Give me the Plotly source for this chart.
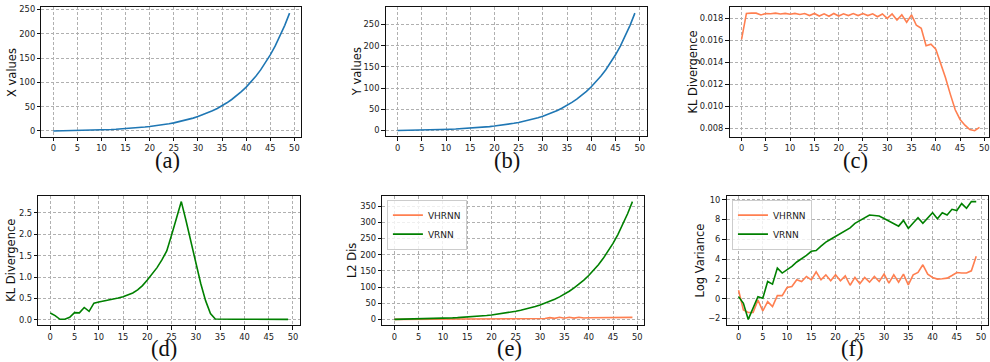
import plotly.graph_objects as go

W, H = 990, 362

steps = list(range(50))

x_values = [0, 0.14, 0.29, 0.45, 0.64, 0.85, 1.08, 1.34, 1.63, 1.96,
            2.32, 2.72, 3.17, 3.67, 4.22, 4.84, 5.54, 6.31, 7.17, 8.13,
            9.20, 10.39, 11.72, 13.20, 14.86, 16.70, 18.76, 21.05, 23.60, 26.45,
            29.63, 33.17, 37.12, 41.53, 46.44, 51.91, 58.02, 64.83, 72.42, 80.88,
            90.32, 100.8, 112.6, 125.7, 140.2, 156.5, 174.6, 194.9, 217.4, 242.5]

y_values = [0, 0.15, 0.33, 0.52, 0.73, 0.97, 1.24, 1.53, 1.86, 2.23,
            2.64, 3.10, 3.61, 4.18, 4.81, 5.52, 6.31, 7.19, 8.17, 9.27,
            10.48, 11.84, 13.36, 15.05, 16.94, 19.04, 21.39, 24.00, 26.90, 30.15,
            33.78, 37.81, 42.32, 47.34, 52.94, 59.18, 66.14, 73.91, 82.56, 92.20,
            102.96, 114.9, 128.4, 143.3, 159.8, 178.4, 199.0, 222.2, 247.8, 276.5]

kl_c = [0.0161, 0.01845, 0.01848, 0.01848, 0.01832, 0.01845, 0.01842, 0.01848, 0.01840, 0.01846,
        0.01838, 0.01846, 0.01836, 0.01844, 0.01826, 0.01845, 0.01822, 0.01842, 0.01820, 0.01845,
        0.01822, 0.01842, 0.01826, 0.01844, 0.01826, 0.01844, 0.01826, 0.01842, 0.01815, 0.01840,
        0.01800, 0.01840, 0.01785, 0.01832, 0.01765, 0.01832, 0.01738, 0.01710, 0.01552, 0.01566,
        0.01521, 0.01400, 0.01260, 0.01110, 0.00970, 0.00882, 0.00830, 0.00790, 0.00780, 0.00810]

kl_d = [0.16, 0.10, 0.015, 0.015, 0.06, 0.17, 0.165, 0.29, 0.20, 0.39,
        0.42, 0.44, 0.465, 0.49, 0.51, 0.54, 0.59, 0.63, 0.70, 0.80,
        0.93, 1.07, 1.22, 1.40, 1.61, 1.98, 2.37, 2.76, 2.30, 1.80,
        1.30, 0.85, 0.45, 0.15, 0.02, 0.015, 0.015, 0.015, 0.016, 0.016,
        0.016, 0.017, 0.017, 0.018, 0.018, 0.019, 0.02, 0.02, 0.018, 0.012]

l2_vhrnn = [0, 0.1, 0.2, 0.3, 0.4, 0.5, 0.6, 0.7, 0.8, 0.9,
            1.0, 1.1, 1.2, 1.3, 1.4, 1.5, 1.6, 1.7, 1.8, 1.9,
            2.0, 2.2, 2.3, 2.5, 2.6, 2.8, 3.0, 3.2, 3.3, 3.5,
            4.5, 2.8, 5.5, 3.2, 6.5, 3.5, 6.5, 4.0, 6.8, 4.5,
            5.0, 5.0, 5.1, 5.2, 5.3, 5.4, 5.5, 5.6, 5.8, 6.2]

l2_vrnn = [0, 0.20, 0.43, 0.68, 0.96, 1.28, 1.63, 2.01, 2.45, 2.93,
           3.48, 4.08, 4.75, 5.50, 6.33, 7.26, 8.30, 9.46, 10.75, 12.19,
           13.80, 15.59, 17.58, 19.80, 22.29, 25.05, 28.14, 31.58, 35.40, 39.68,
           44.45, 49.76, 55.68, 62.30, 69.66, 77.87, 87.03, 97.25, 108.6, 121.3,
           135.5, 151.2, 168.9, 188.6, 210.3, 234.8, 261.9, 292.4, 326.1, 363.8]

logvar_vhrnn = [0.85, -1.15, -1.4, -1.4, -0.15, -1.25, -0.3, -0.8, 0.3, 0.3,
                1.12, 1.22, 1.9, 1.73, 2.24, 1.9, 2.7, 1.9, 2.4, 1.8,
                2.4, 1.8, 2.3, 1.35, 2.14, 1.5, 2.14, 1.66, 2.24, 1.73,
                2.47, 1.56, 2.4, 1.66, 2.47, 1.39, 2.4, 2.64, 3.42, 2.47,
                2.14, 1.97, 2.0, 2.07, 2.34, 2.64, 2.58, 2.58, 2.81, 4.27]

logvar_vrnn = [0.2, -0.47, -2.1, -1.0, 0.2, 0.03, 1.73, 1.46, 3.08, 2.58,
               2.9, 3.25, 3.7, 4.03, 4.37, 4.78, 4.85, 5.3, 5.7, 6.0,
               6.3, 6.58, 6.88, 7.15, 7.6, 7.9, 8.17, 8.44, 8.4, 8.34,
               8.1, 7.86, 7.6, 7.32, 7.9, 7.08, 7.63, 8.17, 7.6, 8.17,
               8.68, 8.07, 8.68, 8.44, 9.02, 8.9, 9.6, 9.12, 9.8, 9.8]

x_ticks = list(range(0, 51, 5))

BLUE = "#1f77b4"
CORAL = "#FF7F50"
GREEN = "#008000"
FONT = "DejaVu Sans"

# panel geometry in pixels: (left, right, top, bottom)
panels = [
    (41.5, 301.7, 4.3, 135.0),
    (386.1, 647.4, 4.3, 134.5),
    (730.4, 990.0, 4.3, 134.7),
    (38.4, 300.3, 194.3, 325.0),
    (382.8, 645.0, 194.3, 325.0),
    (727.4, 989.1, 194.3, 325.0),
]


def auto_range(vals):
    lo, hi = min(vals), max(vals)
    pad = 0.05 * (hi - lo)
    return [lo - pad, hi + pad]


fig = go.Figure()

series = [
    (1, [("x", x_values, BLUE, None)]),
    (2, [("y", y_values, BLUE, None)]),
    (3, [("c", kl_c, CORAL, None)]),
    (4, [("d", kl_d, GREEN, None)]),
    (5, [("VHRNN", l2_vhrnn, CORAL, "legend"), ("VRNN", l2_vrnn, GREEN, "legend")]),
    (6, [("VHRNN", logvar_vhrnn, CORAL, "legend2"), ("VRNN", logvar_vrnn, GREEN, "legend2")]),
]

for idx, lst in series:
    for name, vals, col, leg in lst:
        fig.add_trace(go.Scatter(
            x=steps, y=vals, mode="lines", name=name,
            line=dict(color=col, width=1.6),
            xaxis="x" if idx == 1 else f"x{idx}",
            yaxis="y" if idx == 1 else f"y{idx}",
            showlegend=leg is not None,
            legend=leg if leg else "legend",
        ))

y_specs = [
    (auto_range(x_values), list(range(0, 251, 50)), "d"),
    (auto_range(y_values), list(range(0, 251, 50)), "d"),
    (auto_range(kl_c), [0.008, 0.010, 0.012, 0.014, 0.016, 0.018], ".3f"),
    (auto_range(kl_d), [0.0, 0.5, 1.0, 1.5, 2.0, 2.5], ".1f"),
    (auto_range(l2_vrnn), list(range(0, 351, 50)), "d"),
    (auto_range(logvar_vrnn + logvar_vhrnn), [-2, 0, 2, 4, 6, 8, 10], "d"),
]

layout = dict(
    width=W, height=H,
    margin=dict(l=0, r=0, t=0, b=0),
    paper_bgcolor="white", plot_bgcolor="white",
    font=dict(family=FONT, color="#222"),
    showlegend=True,
)

xr_full = [-2.45, 51.45]
for i, (l, r, t, b) in enumerate(panels):
    n = i + 1
    xk = "xaxis" if n == 1 else f"xaxis{n}"
    yk = "yaxis" if n == 1 else f"yaxis{n}"
    xr = list(xr_full)
    if n == 3:
        # panel is cropped at the right edge of the image
        scale = (992.4 - 730.4) / (xr_full[1] - xr_full[0])
        xr = [xr_full[0], xr_full[0] + (990.0 - 730.4) / scale]
    common = dict(
        showline=True, linecolor="#111", linewidth=1.2, mirror=True,
        ticks="outside", ticklen=3.5, tickwidth=1, tickcolor="#111",
        tickfont=dict(size=8.3, family=FONT, color="#222"),
        showgrid=True, gridcolor="#b0b0b0", gridwidth=0.8, griddash="3px,2px",
        zeroline=False,
    )
    layout[xk] = dict(common, domain=[l / W, r / W], range=xr,
                      tickvals=x_ticks, anchor="y" if n == 1 else f"y{n}")
    yr, yt, fmt = y_specs[i]
    layout[yk] = dict(common, domain=[1 - b / H, 1 - t / H], range=yr,
                      tickvals=yt, tickformat=fmt,
                      anchor="x" if n == 1 else f"x{n}")

layout["legend"] = dict(
    x=387.3 / W, y=1 - 198.3 / H, xanchor="left", yanchor="top",
    bgcolor="rgba(255,255,255,0.8)", bordercolor="#cccccc", borderwidth=1,
    font=dict(size=9, family=FONT, color="#222"), itemwidth=30,
    tracegroupgap=0,
)
layout["legend2"] = dict(
    x=732.7 / W, y=1 - 198.3 / H, xanchor="left", yanchor="top",
    bgcolor="rgba(255,255,255,0.8)", bordercolor="#cccccc", borderwidth=1,
    font=dict(size=9, family=FONT, color="#222"), itemwidth=30,
    tracegroupgap=0,
)

fig.update_layout(**layout)

y_titles = [
    ("X values", 12.0, 69.6),
    ("Y values", 356.7, 69.4),
    ("KL Divergence", 693.3, 69.5),
    ("KL Divergence", 11.3, 259.6),
    ("L2 Dis", 353.0, 259.6),
    ("Log Variance", 700.8, 259.6),
]
for txt, cx, cy in y_titles:
    fig.add_annotation(
        text=txt, x=cx / W, y=1 - cy / H, xref="paper", yref="paper",
        xanchor="center", yanchor="middle", textangle=-90, showarrow=False,
        font=dict(size=11.5, family=FONT, color="#111"),
    )

sub_labels = [
    ("(a)", 168.0, 158.5),
    ("(b)", 507.5, 158.5),
    ("(c)", 856.7, 158.5),
    ("(d)", 164.2, 348.5),
    ("(e)", 509.7, 348.5),
    ("(f)", 853.3, 348.5),
]
for txt, cx, cy in sub_labels:
    fig.add_annotation(
        text=txt, x=cx / W, y=1 - cy / H, xref="paper", yref="paper",
        xanchor="center", yanchor="middle", showarrow=False,
        font=dict(size=22.5, family="Liberation Serif", color="#111"),
        borderpad=0,
    )

fig.write_html(
    "out.html",
    config={"displayModeBar": False},
    post_script="document.body.style.margin='0px';document.body.style.overflow='hidden';",
)
